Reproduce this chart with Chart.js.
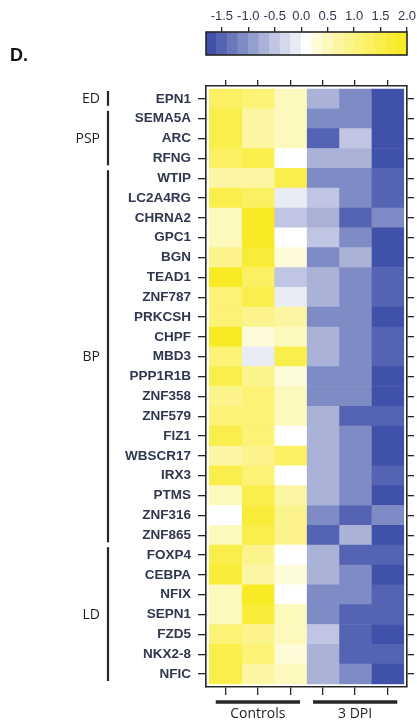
<!DOCTYPE html>
<html><head><meta charset="utf-8">
<script src="https://cdn.jsdelivr.net/npm/chart.js@4.4.1/dist/chart.umd.min.js"></script>
<style>
html,body{margin:0;padding:0;background:#fff;}
#wrap{position:relative;width:417px;height:723px;overflow:hidden;}
#main{position:absolute;left:0;top:0;}
#key{position:absolute;left:190px;top:0;}
</style></head><body>
<div id="wrap"><canvas id="main" width="417" height="723"></canvas><canvas id="key" width="227" height="62"></canvas></div>
<script>
// ---------------- data ----------------
const genes = ['EPN1','SEMA5A','ARC','RFNG','WTIP','LC2A4RG','CHRNA2','GPC1','BGN','TEAD1','ZNF787','PRKCSH','CHPF','MBD3','PPP1R1B','ZNF358','ZNF579','FIZ1','WBSCR17','IRX3','PTMS','ZNF316','ZNF865','FOXP4','CEBPA','NFIX','SEPN1','FZD5','NKX2-8','NFIC'];
const ctrl1 = [1.3,1.5,1.5,1.3,0.7,1.5,0.5,0.5,0.9,1.9,1.1,1.1,1.9,1.1,1.5,0.9,1.1,1.5,0.7,1.5,0.5,0.05,0.5,1.5,1.7,0.5,0.5,1.1,1.5,1.5];
const ctrl2 = [1.1,0.7,0.7,1.5,0.7,1.3,1.9,1.9,1.7,1.3,1.5,0.9,0.25,-0.15,0.9,1.1,1.1,1.1,0.9,1.1,1.5,1.7,1.5,0.9,0.7,1.9,1.7,0.9,1.1,0.7];
const ctrl3 = [0.5,0.5,0.5,0.05,1.5,-0.15,-0.5,0.05,0.3,-0.5,-0.15,0.7,0.5,1.5,0.3,0.5,0.5,0.05,1.3,0.05,0.7,0.9,0.9,0.05,0.25,0.05,0.5,0.5,0.3,0.5];
const dpi1  = [-0.75,-1.1,-1.5,-0.75,-1.1,-0.5,-0.75,-0.5,-1.1,-0.75,-0.75,-1.1,-0.75,-0.75,-1.1,-1.1,-0.75,-0.75,-0.75,-0.75,-0.75,-1.1,-1.5,-0.75,-0.75,-1.1,-1.1,-0.5,-0.75,-0.75];
const dpi2  = [-1.1,-1.1,-0.5,-0.75,-1.1,-1.1,-1.5,-1.1,-0.75,-1.1,-1.1,-1.1,-1.1,-1.1,-1.1,-1.1,-1.5,-1.1,-1.1,-1.1,-1.1,-1.5,-0.75,-1.5,-1.1,-1.1,-1.5,-1.5,-1.5,-1.1];
const dpi3  = [-1.7,-1.7,-1.7,-1.7,-1.5,-1.5,-1.1,-1.7,-1.7,-1.5,-1.5,-1.7,-1.5,-1.5,-1.7,-1.7,-1.5,-1.7,-1.7,-1.5,-1.7,-1.1,-1.7,-1.5,-1.7,-1.5,-1.5,-1.7,-1.5,-1.7];
const columnSeries = [ctrl1, ctrl2, ctrl3, dpi1, dpi2, dpi3];
const groupNames = ['Controls', '3 DPI'];
const groupColumns = [[0, 2], [3, 5]];
const geneSets = ['ED', 'PSP', 'BP', 'LD'];
const geneSetRows = [[0, 0], [1, 3], [4, 22], [23, 29]];
const keyTicks = [-1.5, -1.0, -0.5, 0.0, 0.5, 1.0, 1.5, 2.0];
const keyBreaks = [-1.8,-1.6,-1.4,-1.2,-1.0,-0.8,-0.6,-0.4,-0.2,0.0,0.2,0.4,0.6,0.8,1.0,1.2,1.4,1.6,1.8,2.0];
const panelLabel = 'D.';

// ---------------- colours ----------------
const BLUE = [63, 81, 168], WHITE = [255, 255, 255], YELLOW = [248, 234, 36];
const nBins = keyBreaks.length - 1;
const binCenters = keyBreaks.slice(0, -1).map((b, i) => (b + keyBreaks[i + 1]) / 2);
const whiteBin = keyBreaks.indexOf(0.0);
function mix(a, b, t) { return 'rgb(' + a.map((v, i) => Math.round(v + (b[i] - v) * t)).join(',') + ')'; }
function binColorIdx(b) {
  const c = binCenters[b], mid = binCenters[whiteBin];
  if (c < mid) return mix(WHITE, BLUE, (mid - c) / (mid - binCenters[0]));
  return mix(WHITE, YELLOW, Math.pow((c - mid) / (binCenters[nBins - 1] - mid), 0.8));
}
function valueColor(v) {
  let b = 0;
  for (let i = 0; i < nBins; i++) if (v >= keyBreaks[i] - 1e-9) b = i;
  return binColorIdx(b);
}

const INK = '#262626';
const LABEL_INK = '#30374f';

// ---------------- annotations ----------------
const annot = {
  id: 'annot',
  afterDraw(chart) {
    const { ctx, chartArea } = chart;
    const x = chart.scales.x, y = chart.scales.y;
    ctx.save();
    // panel letter
    ctx.fillStyle = '#111';
    ctx.font = 'bold 18px "Liberation Sans", Arial, sans-serif';
    ctx.textAlign = 'left'; ctx.textBaseline = 'alphabetic';
    ctx.fillText(panelLabel, 10, 61);
    // gene set brackets
    const bx = 108;
    ctx.strokeStyle = INK; ctx.lineWidth = 2.2; ctx.lineCap = 'butt';
    ctx.fillStyle = '#1e1e1e';
    ctx.font = '14px "Open Sans", sans-serif';
    ctx.textAlign = 'right';
    geneSets.forEach((name, k) => {
      const [s, e] = geneSetRows[k];
      const top = y.getPixelForValue(s - 0.5) + 2;
      const bot = y.getPixelForValue(e + 0.5) - 3;
      ctx.beginPath(); ctx.moveTo(bx, top); ctx.lineTo(bx, bot); ctx.stroke();
      ctx.fillText(name, bx - 8, (top + bot) / 2 + 5);
    });
    // sample group bars
    ctx.lineWidth = 3.5;
    ctx.textAlign = 'center';
    groupNames.forEach((name, k) => {
      const [s, e] = groupColumns[k];
      const c = (s + e) / 2;
      const x1 = x.getPixelForValue(c - 1.3), x2 = x.getPixelForValue(c + 1.3);
      const yy = chartArea.bottom + 15;
      ctx.beginPath(); ctx.moveTo(x1, yy); ctx.lineTo(x2, yy); ctx.stroke();
      ctx.fillText(name, (x1 + x2) / 2, yy + 16);
    });
    ctx.restore();
  }
};

// ---------------- heatmap ----------------
const cols = columnSeries.map((_, j) => j);
const datasets = columnSeries.map((vals, j) => ({
  data: genes.map((g, i) => ({ x: [j - 0.5, j + 0.5], y: i })),
  backgroundColor: vals.map(valueColor),
  borderWidth: 0,
  grouped: false,
  barPercentage: 1,
  categoryPercentage: 1
}));

const gridOpts = (len) => ({ drawOnChartArea: false, drawTicks: true, tickLength: len, color: INK, lineWidth: 1.3, offset: false });
const borderOpts = { display: true, color: INK, width: 1.6 };

new Chart(document.getElementById('main'), {
  type: 'bar',
  data: { datasets },
  options: {
    indexAxis: 'y',
    responsive: false,
    animation: false,
    events: [],
    devicePixelRatio: 1,
    layout: { padding: 0 },
    plugins: { legend: { display: false }, tooltip: { enabled: false } },
    scales: {
      x: {
        type: 'linear', position: 'bottom', min: -0.6, max: 5.6, offset: false,
        afterBuildTicks: a => { a.ticks = cols.map(v => ({ value: v })); },
        ticks: { callback: () => '', autoSkip: false, padding: 0 },
        grid: gridOpts(8), border: borderOpts,
        afterFit: s => { s.height = 36; s.paddingLeft = 0; s.paddingRight = 0; }
      },
      x2: {
        type: 'linear', position: 'top', min: -0.6, max: 5.6, offset: false,
        afterBuildTicks: a => { a.ticks = cols.map(v => ({ value: v })); },
        ticks: { callback: () => '', autoSkip: false, padding: 0 },
        grid: gridOpts(6), border: borderOpts,
        afterFit: s => { s.height = 86; s.paddingLeft = 0; s.paddingRight = 0; }
      },
      y: {
        type: 'linear', position: 'left', min: -0.65, max: 29.65, reverse: true, offset: false,
        afterBuildTicks: a => { a.ticks = genes.map((g, i) => ({ value: i })); },
        ticks: {
          callback: v => genes[v], autoSkip: false, padding: 7,
          color: LABEL_INK, font: { family: '"Liberation Sans", Arial, sans-serif', size: 13.5, weight: 'bold' }
        },
        grid: gridOpts(8), border: borderOpts,
        afterFit: s => { s.width = 206; s.paddingTop = 0; s.paddingBottom = 0; }
      },
      y2: {
        type: 'linear', position: 'right', min: -0.65, max: 29.65, reverse: true, offset: false,
        afterBuildTicks: a => { a.ticks = genes.map((g, i) => ({ value: i })); },
        ticks: { callback: () => '', autoSkip: false, padding: 0 },
        grid: gridOpts(7), border: borderOpts,
        afterFit: s => { s.width = 10; s.paddingTop = 0; s.paddingBottom = 0; }
      }
    }
  },
  plugins: [annot]
});

// ---------------- colour key ----------------
const keyFrame = {
  id: 'keyFrame',
  afterDatasetsDraw(chart) {
    const a = chart.chartArea, ctx = chart.ctx;
    ctx.save(); ctx.strokeStyle = INK; ctx.lineWidth = 1.6;
    ctx.strokeRect(a.left, a.top, a.right - a.left, a.bottom - a.top);
    ctx.restore();
  }
};
const binIdx = binCenters.map((_, i) => i);
new Chart(document.getElementById('key'), {
  type: 'bar',
  data: {
    datasets: [{
      data: binCenters.map(c => ({ x: c, y: [0, 1] })),
      backgroundColor: binIdx.map(binColorIdx),
      borderWidth: 0, barPercentage: 1, categoryPercentage: 1
    }]
  },
  options: {
    responsive: false, animation: false, events: [], devicePixelRatio: 1,
    layout: { padding: { left: 16, right: 10, top: 0, bottom: 7 } },
    plugins: { legend: { display: false }, tooltip: { enabled: false } },
    scales: {
      x: {
        type: 'linear', position: 'top', min: keyBreaks[0], max: keyBreaks[keyBreaks.length - 1], offset: false,
        afterBuildTicks: a => { a.ticks = keyTicks.map(v => ({ value: v })); },
        ticks: {
          callback: v => v.toFixed(1), autoSkip: false, maxRotation: 0, padding: 3,
          color: LABEL_INK, font: { family: '"Liberation Sans", Arial, sans-serif', size: 13 }
        },
        grid: { drawOnChartArea: false, drawTicks: true, tickLength: 5, color: INK, lineWidth: 1.3, offset: false },
        border: { display: false },
        afterFit: s => { s.height = 32; s.paddingLeft = 0; s.paddingRight = 0; }
      },
      y: { type: 'linear', display: false, min: 0, max: 1 }
    }
  },
  plugins: [keyFrame]
});
</script>
</body></html>
